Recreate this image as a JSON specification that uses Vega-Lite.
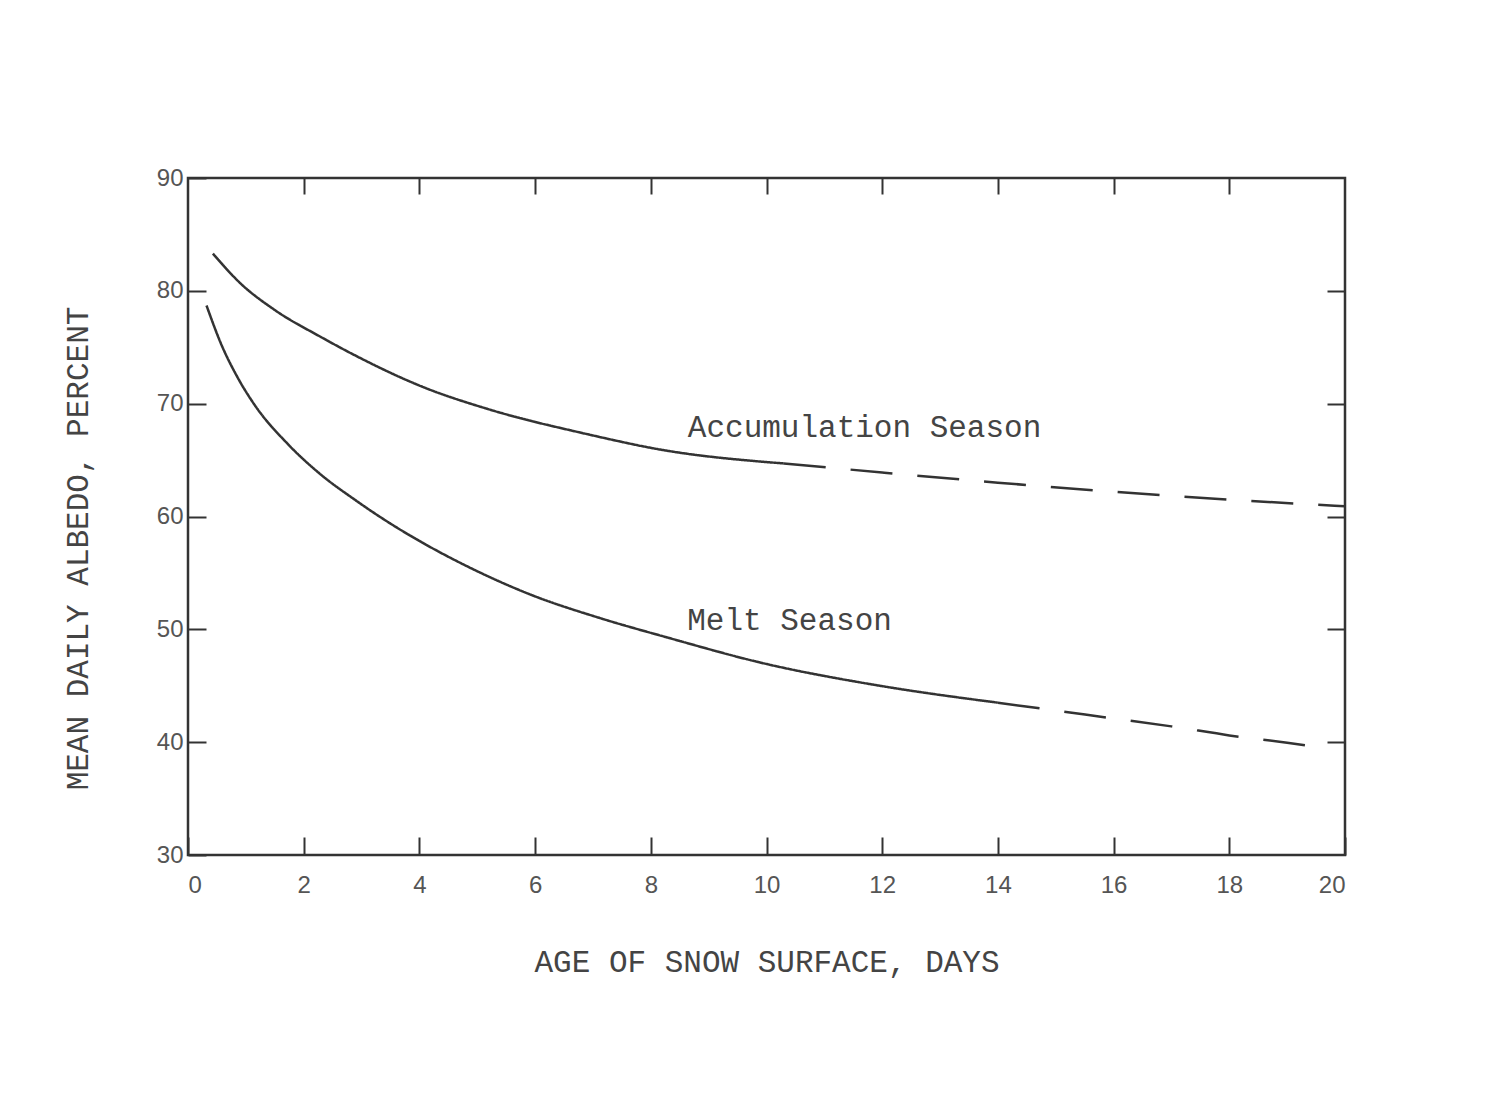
{
  "$schema": "https://vega.github.io/schema/vega-lite/v6.json",
  "width": 1157,
  "height": 677,
  "autosize": {"type": "none"},
  "padding": {"left": 188, "top": 178, "right": 145, "bottom": 243},
  "background": "#ffffff",
  "config": {
    "view": {"stroke": "#333333", "strokeWidth": 2.5},
    "axis": {
      "domain": false,
      "grid": false,
      "tickColor": "#333333",
      "tickWidth": 2,
      "labelFont": "Liberation Sans",
      "labelFontSize": 24,
      "labelColor": "#555555",
      "titleFont": "Liberation Mono",
      "titleFontSize": 31,
      "titleFontWeight": "normal",
      "titleColor": "#444444"
    }
  },
  "datasets": {
    "curves": [
      {"series": "Accumulation", "seg": "solid", "x": 0.43, "y": 83.3},
      {"series": "Accumulation", "seg": "solid", "x": 0.92, "y": 80.6},
      {"series": "Accumulation", "seg": "solid", "x": 1.5, "y": 78.3},
      {"series": "Accumulation", "seg": "solid", "x": 2.3, "y": 75.9},
      {"series": "Accumulation", "seg": "solid", "x": 2.88, "y": 74.3},
      {"series": "Accumulation", "seg": "solid", "x": 4.1, "y": 71.4},
      {"series": "Accumulation", "seg": "solid", "x": 5.2, "y": 69.5},
      {"series": "Accumulation", "seg": "solid", "x": 6.9, "y": 67.3},
      {"series": "Accumulation", "seg": "solid", "x": 8.2, "y": 65.9},
      {"series": "Accumulation", "seg": "solid", "x": 10.3, "y": 64.7},
      {"series": "Accumulation", "seg": "dashed", "x": 10.3, "y": 64.7},
      {"series": "Accumulation", "seg": "dashed", "x": 12.0, "y": 63.9},
      {"series": "Accumulation", "seg": "dashed", "x": 14.0, "y": 63.0},
      {"series": "Accumulation", "seg": "dashed", "x": 16.0, "y": 62.2},
      {"series": "Accumulation", "seg": "dashed", "x": 18.0, "y": 61.5},
      {"series": "Accumulation", "seg": "dashed", "x": 20.0, "y": 60.9},
      {"series": "Melt", "seg": "solid", "x": 0.32, "y": 78.7},
      {"series": "Melt", "seg": "solid", "x": 0.58, "y": 75.2},
      {"series": "Melt", "seg": "solid", "x": 0.86, "y": 72.3},
      {"series": "Melt", "seg": "solid", "x": 1.15, "y": 69.9},
      {"series": "Melt", "seg": "solid", "x": 1.73, "y": 66.4},
      {"series": "Melt", "seg": "solid", "x": 2.3, "y": 63.7},
      {"series": "Melt", "seg": "solid", "x": 2.88, "y": 61.5},
      {"series": "Melt", "seg": "solid", "x": 3.46, "y": 59.5},
      {"series": "Melt", "seg": "solid", "x": 4.15, "y": 57.4},
      {"series": "Melt", "seg": "solid", "x": 4.82, "y": 55.6},
      {"series": "Melt", "seg": "solid", "x": 5.96, "y": 53.0},
      {"series": "Melt", "seg": "solid", "x": 7.12, "y": 51.0},
      {"series": "Melt", "seg": "solid", "x": 8.27, "y": 49.3},
      {"series": "Melt", "seg": "solid", "x": 9.94, "y": 47.0},
      {"series": "Melt", "seg": "solid", "x": 11.96, "y": 45.0},
      {"series": "Melt", "seg": "solid", "x": 14.0, "y": 43.5},
      {"series": "Melt", "seg": "dashed", "x": 14.0, "y": 43.5},
      {"series": "Melt", "seg": "dashed", "x": 15.0, "y": 42.8},
      {"series": "Melt", "seg": "dashed", "x": 16.0, "y": 42.1},
      {"series": "Melt", "seg": "dashed", "x": 17.0, "y": 41.4},
      {"series": "Melt", "seg": "dashed", "x": 18.0, "y": 40.6},
      {"series": "Melt", "seg": "dashed", "x": 19.0, "y": 39.95},
      {"series": "Melt", "seg": "dashed", "x": 19.6, "y": 39.5}
    ],
    "labels": [
      {"label": "Accumulation Season", "x": 8.64, "y": 67.8},
      {"label": "Melt Season", "x": 8.63, "y": 50.7}
    ]
  },
  "layer": [
    {
      "data": {"name": "curves"},
      "mark": {"type": "line", "color": "#333333", "strokeWidth": 2.5, "interpolate": "monotone"},
      "encoding": {
        "x": {
          "field": "x", "type": "quantitative",
          "scale": {"domain": [0, 20], "nice": false, "zero": false},
          "axis": {
            "orient": "bottom",
            "values": [0, 2, 4, 6, 8, 10, 12, 14, 16, 18, 20],
            "tickSize": -18,
            "labelPadding": 48,
            "labelBaseline": "middle",
            "title": "AGE OF SNOW SURFACE, DAYS",
            "titleY": 107,
            "titleBaseline": "middle"
          }
        },
        "y": {
          "field": "y", "type": "quantitative",
          "scale": {"domain": [30, 90], "nice": false, "zero": false},
          "axis": {
            "orient": "left",
            "values": [30, 40, 50, 60, 70, 80, 90],
            "tickSize": -18,
            "labelPadding": 23,
            "title": "MEAN DAILY ALBEDO, PERCENT",
            "titleX": -110,
            "titleY": 370,
            "titleAngle": -90,
            "titleBaseline": "middle",
            "titleAlign": "center"
          }
        },
        "detail": [{"field": "series"}, {"field": "seg"}],
        "strokeDash": {
          "field": "seg", "type": "nominal",
          "scale": {"domain": ["solid", "dashed"], "range": [[1, 0], [42, 25]]},
          "legend": null
        }
      }
    },
    {
      "data": {"name": "labels"},
      "mark": {"type": "text", "align": "left", "baseline": "middle", "font": "Liberation Mono", "fontSize": 31, "color": "#444444"},
      "encoding": {
        "x": {
          "field": "x", "type": "quantitative",
          "axis": {"orient": "top", "values": [2, 4, 6, 8, 10, 12, 14, 16, 18], "tickSize": -16, "labels": false, "title": null}
        },
        "y": {
          "field": "y", "type": "quantitative",
          "axis": {"orient": "right", "values": [40, 50, 60, 70, 80], "tickSize": -18, "labels": false, "title": null}
        },
        "text": {"field": "label"}
      }
    }
  ],
  "resolve": {"axis": {"x": "independent", "y": "independent"}}
}
